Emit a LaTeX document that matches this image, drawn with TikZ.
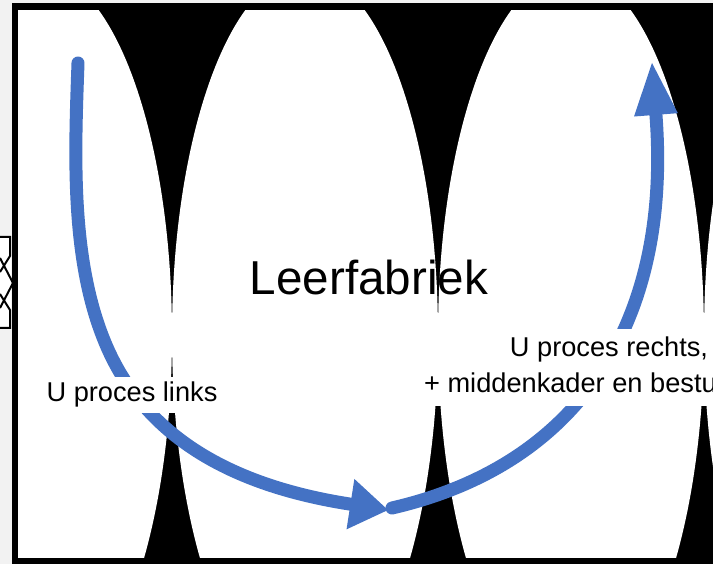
\documentclass[tikz,border=0pt]{standalone}
\usepackage{fontspec}
\setmainfont{Liberation Sans}
\usetikzlibrary{arrows.meta}
\definecolor{procesblue}{HTML}{4472C4}
\begin{document}
\begin{tikzpicture}[x=1pt,y=-1pt,
  procesarrow/.style={draw=procesblue,line width=13pt,line cap=round},
  proceslabel/.style={fill=white,inner xsep=4pt,font=\fontsize{27.2}{36}\selectfont}]
 \useasboundingbox (0,0) rectangle (713,564);
 \fill[gray!10] (0,0) rectangle (713,564);
 % piece of a shape left of the frame
 \fill[white] (0,237) rectangle (11,328);
 \draw[line width=2pt] (0,237)--(10,237)--(10,256)--(0,272);
 \draw[line width=2pt] (0,258)--(13,283)--(0,308);
 \draw[line width=2pt] (0,294)--(10,310)--(10,328)--(0,328);
 % frame with the white lenses
 \fill[black] (12,3) rectangle (740,570);
 \begin{scope}
  \clip (18,11) rectangle (740,557.5);
  \foreach \cx in {39,305,571,837}
   \fill[white] (\cx,335) ellipse [x radius=133,y radius=363.5];
 \end{scope}
 % the two U processes
 \coordinate (linksstart) at (78,63);
 \coordinate (linksmid) at (104,340);
 \coordinate (bodem) at (388,510);
 \coordinate (rechtsstart) at (392,508);
 \coordinate (rechtseind) at (652,63);
 \draw[procesarrow,-{Triangle[length=38pt,width=51pt,line width=0pt]}] (linksstart)
   .. controls (75,150) and (70,256) .. (linksmid)
   .. controls (145,442) and (240,487) .. (bodem);
 \draw[procesarrow,-{Triangle[length=52pt,width=44pt,line width=0pt]}] (rechtsstart)
   .. controls (587,463) and (671,313) .. (rechtseind);
 % labels
 \node[proceslabel,text height=20pt,text depth=6pt,inner ysep=5pt,anchor=base] (links) at (132,402) {U proces links};
 \node[proceslabel,align=center,inner ysep=7.5pt,anchor=north] (rechts) at (609,329) {U proces rechts,\\+ middenkader en bestu\phantom{urders}\vphantom{p}};
 \node[font=\fontsize{47.6}{57}\selectfont,inner sep=0pt,anchor=base] (titel) at (369,295) {Leerfabriek};
\end{tikzpicture}
\end{document}
